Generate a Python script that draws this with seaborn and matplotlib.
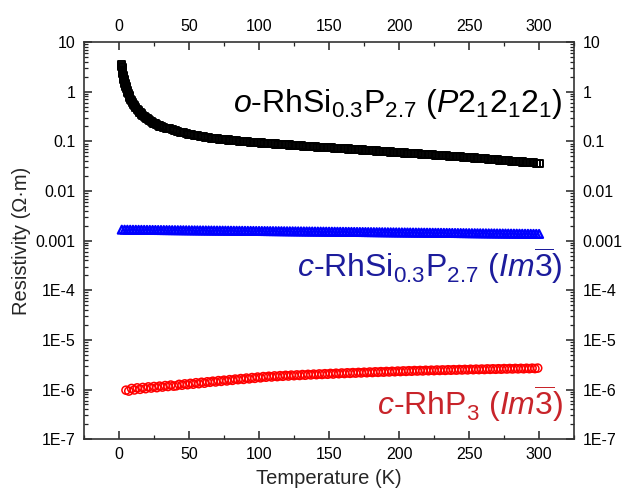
import numpy as np
import pandas as pd
import matplotlib
matplotlib.use("Agg")
import matplotlib.pyplot as plt
import matplotlib.ticker as mticker
import seaborn as sns

# o-RhSi0.3P2.7 (orthorhombic), resistivity in Ohm*m
t_ortho_low = [2.0, 2.1, 2.2, 2.3, 2.4, 2.5, 2.6, 2.8, 3.0, 3.2, 3.4, 3.6, 3.8, 4.0,
               4.3, 4.6, 5.0, 5.4, 5.8, 6.2, 6.7, 7.2, 7.8, 8.4, 9.0, 9.7, 10.4, 11.2,
               12, 13, 14, 15, 16, 17, 18, 19, 20, 21, 22, 23, 24, 25, 26, 27, 28, 29, 30]
rho_ortho_low = [3.5, 3.2, 3.0, 2.85, 2.7, 2.6, 2.45, 2.3, 2.15, 2.0, 1.88, 1.77, 1.67,
                 1.58, 1.46, 1.36, 1.25, 1.14, 1.05, 0.98, 0.90, 0.83, 0.76, 0.70, 0.65,
                 0.60, 0.555, 0.515, 0.48, 0.44, 0.41, 0.38, 0.355, 0.335, 0.315, 0.30,
                 0.285, 0.272, 0.26, 0.25, 0.24, 0.232, 0.224, 0.216, 0.209, 0.203, 0.197]
t_ortho_high = np.arange(32, 301, 2)
rho_ortho_high = [
    0.190, 0.184, 0.178, 0.172, 0.165, 0.159, 0.153, 0.148, 0.143, 0.138,
    0.135, 0.132, 0.129, 0.126, 0.123, 0.121, 0.118, 0.116, 0.114, 0.112,
    0.110, 0.109, 0.107, 0.106, 0.104, 0.103, 0.102, 0.100, 0.099, 0.098,
    0.097, 0.096, 0.0950, 0.0940, 0.0930, 0.0922, 0.0914, 0.0906, 0.0898, 0.0890,
    0.0882, 0.0874, 0.0866, 0.0858, 0.0850, 0.0842, 0.0834, 0.0826, 0.0818, 0.0810,
    0.0802, 0.0794, 0.0786, 0.0778, 0.0770, 0.0764, 0.0758, 0.0752, 0.0746, 0.0740,
    0.0734, 0.0728, 0.0722, 0.0716, 0.0710, 0.0704, 0.0698, 0.0692, 0.0686, 0.0680,
    0.0674, 0.0668, 0.0662, 0.0656, 0.0650, 0.0644, 0.0638, 0.0632, 0.0626, 0.0620,
    0.0614, 0.0608, 0.0602, 0.0596, 0.0590, 0.0585, 0.0580, 0.0576, 0.0571, 0.0566,
    0.0561, 0.0556, 0.0552, 0.0547, 0.0542, 0.0537, 0.0532, 0.0528, 0.0523, 0.0518,
    0.0513, 0.0508, 0.0504, 0.0499, 0.0494, 0.0489, 0.0484, 0.0480, 0.0475, 0.0470,
    0.0465, 0.0460, 0.0456, 0.0451, 0.0446, 0.0441, 0.0436, 0.0432, 0.0427, 0.0422,
    0.0417, 0.0412, 0.0408, 0.0403, 0.0399, 0.0395, 0.0390, 0.0386, 0.0382, 0.0378,
    0.0374, 0.0370, 0.0366, 0.0362, 0.0358]

# c-RhSi0.3P2.7 (cubic), resistivity in milli-Ohm*m
t_cubic = np.arange(2, 301, 2)
rho_cubic_milli = [
    1.660, 1.658, 1.656, 1.654, 1.652, 1.650, 1.648, 1.646, 1.644, 1.642,
    1.640, 1.638, 1.636, 1.634, 1.632, 1.630, 1.628, 1.626, 1.624, 1.622,
    1.620, 1.618, 1.616, 1.614, 1.612, 1.610, 1.608, 1.606, 1.604, 1.602,
    1.600, 1.598, 1.596, 1.594, 1.592, 1.590, 1.588, 1.586, 1.584, 1.582,
    1.580, 1.578, 1.576, 1.574, 1.572, 1.570, 1.568, 1.566, 1.564, 1.562,
    1.560, 1.558, 1.556, 1.554, 1.552, 1.550, 1.548, 1.546, 1.544, 1.542,
    1.540, 1.538, 1.536, 1.534, 1.532, 1.530, 1.528, 1.526, 1.524, 1.522,
    1.520, 1.518, 1.516, 1.514, 1.512, 1.510, 1.508, 1.506, 1.504, 1.502,
    1.500, 1.498, 1.496, 1.494, 1.492, 1.490, 1.488, 1.486, 1.484, 1.482,
    1.480, 1.478, 1.476, 1.474, 1.472, 1.470, 1.468, 1.466, 1.464, 1.462,
    1.460, 1.458, 1.456, 1.454, 1.452, 1.450, 1.448, 1.446, 1.444, 1.442,
    1.440, 1.438, 1.436, 1.434, 1.432, 1.430, 1.428, 1.426, 1.424, 1.422,
    1.420, 1.418, 1.416, 1.414, 1.412, 1.410, 1.408, 1.406, 1.404, 1.402,
    1.400, 1.398, 1.396, 1.394, 1.392, 1.390, 1.388, 1.386, 1.384, 1.382,
    1.380, 1.378, 1.376, 1.374, 1.372, 1.370, 1.368, 1.366, 1.364, 1.362]

# c-RhP3, resistivity in micro-Ohm*m
t_rhp3 = np.arange(5, 300, 2)
rho_rhp3_micro = [
    0.97, 0.93, 1.05, 0.98, 1.08, 1.01, 1.10, 1.04, 1.13, 1.07,
    1.15, 1.09, 1.17, 1.12, 1.20, 1.15, 1.23, 1.17, 1.19, 1.27,
    1.22, 1.30, 1.25, 1.33, 1.28, 1.37, 1.31, 1.40, 1.34, 1.43,
    1.40, 1.47, 1.42, 1.51, 1.46, 1.54, 1.49, 1.58, 1.53, 1.62,
    1.58, 1.66, 1.60, 1.70, 1.64, 1.74, 1.68, 1.78, 1.72, 1.82,
    1.77, 1.85, 1.79, 1.88, 1.82, 1.90, 1.85, 1.93, 1.87, 1.95,
    1.90, 1.97, 1.92, 2.00, 1.94, 2.02, 1.97, 2.04, 1.99, 2.06,
    2.01, 2.08, 2.03, 2.11, 2.05, 2.13, 2.08, 2.15, 2.10, 2.17,
    2.12, 2.19, 2.14, 2.21, 2.16, 2.23, 2.18, 2.25, 2.20, 2.27,
    2.22, 2.29, 2.24, 2.31, 2.26, 2.33, 2.28, 2.35, 2.30, 2.37,
    2.32, 2.39, 2.34, 2.41, 2.36, 2.42, 2.37, 2.44, 2.39, 2.45,
    2.40, 2.47, 2.42, 2.48, 2.43, 2.50, 2.45, 2.51, 2.46, 2.53,
    2.48, 2.54, 2.49, 2.56, 2.51, 2.57, 2.52, 2.58, 2.53, 2.60,
    2.55, 2.61, 2.56, 2.62, 2.57, 2.64, 2.59, 2.65, 2.60, 2.66,
    2.61, 2.67, 2.62, 2.68, 2.63, 2.69, 2.64, 2.70]

ytick_vals = [1e-7, 1e-6, 1e-5, 1e-4, 1e-3, 1e-2, 1e-1, 1, 10]
ytick_labels = ["1E-7", "1E-6", "1E-5", "1E-4", "0.001", "0.01", "0.1", "1", "10"]
xtick_vals = [0, 50, 100, 150, 200, 250, 300]

sns.set_theme(style="ticks")
plt.rcParams["font.family"] = ["Liberation Sans", "DejaVu Sans"]
plt.rcParams["mathtext.fontset"] = "custom"
plt.rcParams["mathtext.rm"] = "Liberation Sans"
plt.rcParams["mathtext.it"] = "Liberation Sans:italic"
plt.rcParams["mathtext.bf"] = "Liberation Sans:bold"

df_o = pd.DataFrame({"T": np.concatenate([t_ortho_low, t_ortho_high]),
                     "rho": np.concatenate([rho_ortho_low, rho_ortho_high])})
df_c = pd.DataFrame({"T": t_cubic, "rho": np.array(rho_cubic_milli) * 1e-3})
df_r = pd.DataFrame({"T": t_rhp3, "rho": np.array(rho_rhp3_micro) * 1e-6})

fig = plt.figure(figsize=(6.22, 4.94), dpi=100)
ax = fig.add_axes([0.135, 0.111, 0.788, 0.804])

sns.scatterplot(data=df_o, x="T", y="rho", ax=ax, marker="s", s=26,
                facecolor="none", edgecolor="black", linewidth=1.4, zorder=3)
sns.scatterplot(data=df_c, x="T", y="rho", ax=ax, marker="^", s=32,
                facecolor="none", edgecolor="#0000ff", linewidth=1.6, zorder=3)
sns.scatterplot(data=df_r, x="T", y="rho", ax=ax, marker="o", s=34,
                facecolor="none", edgecolor="#ff0000", linewidth=1.1, zorder=3)

ax.set_yscale("log")
ax.set_xlim(-25, 325)
ax.set_ylim(1e-7, 10)

ax.set_xticks(xtick_vals)
ax.xaxis.set_minor_locator(mticker.MultipleLocator(25))
ax.set_yticks(ytick_vals)
ax.set_yticklabels(ytick_labels)
ax.yaxis.set_minor_locator(mticker.LogLocator(base=10, subs=np.arange(2, 10)))
ax.yaxis.set_minor_formatter(mticker.NullFormatter())

ax.tick_params(which="both", direction="in", top=True, right=True,
               labeltop=True, labelright=True, colors="#222222",
               labelcolor="black", labelsize=11.5, pad=6)
ax.tick_params(which="major", length=6, width=1.1)
ax.tick_params(which="minor", length=3, width=0.9)
for sp in ax.spines.values():
    sp.set_linewidth(1.2)
    sp.set_color("#333333")

ax.set_xlabel("Temperature (K)", fontsize=14.5, labelpad=5)
ax.set_ylabel("Resistivity (\u03a9\u00b7m)", fontsize=14.5, labelpad=3)

ax.text(316.5, 0.39,
        r"$\mathit{o}$-RhSi$_{0.3}$P$_{2.7}$ ($\mathit{P}$2$_1$2$_1$2$_1$)",
        ha="right", va="baseline", fontsize=23, color="black")
ax.text(316.5, 1.83e-4,
        r"$\mathit{c}$-RhSi$_{0.3}$P$_{2.7}$ ($\mathit{Im}\overline{\mathit{3}}$)",
        ha="right", va="baseline", fontsize=23, color="#1c1c9c")
ax.text(317, 3.0e-7,
        r"$\mathit{c}$-RhP$_3$ ($\mathit{Im}\overline{\mathit{3}}$)",
        ha="right", va="baseline", fontsize=23, color="#c8242a")

fig.savefig("out.png", dpi=100)
